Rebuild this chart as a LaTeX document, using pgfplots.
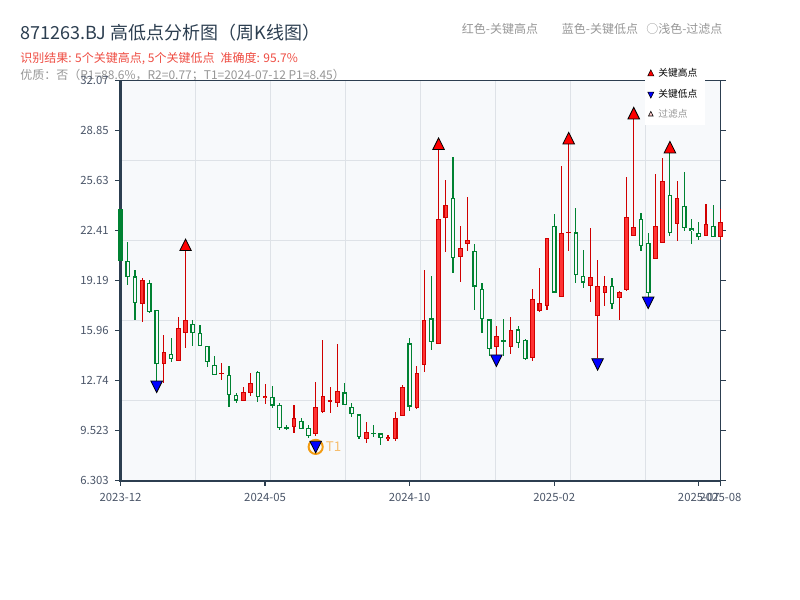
\documentclass[border=0pt]{standalone}
\usepackage{pgfplots}
\pgfplotsset{compat=1.18}
\usepackage{pgfplotstable}
\usepackage{fontspec}
\setmainfont{Noto Sans CJK SC}
\definecolor{titlecol}{RGB}{44,62,80}
\definecolor{spine}{RGB}{44,62,80}
\definecolor{bgcol}{RGB}{247,249,251}
\definecolor{gridcol}{RGB}{222,226,231}
\definecolor{upred}{RGB}{255,51,51}
\definecolor{wickred}{RGB}{208,0,0}
\definecolor{dngreen}{RGB}{0,130,50}
\definecolor{subred}{RGB}{238,75,65}
\definecolor{subgray}{RGB}{150,150,150}
\definecolor{ticklab}{RGB}{74,85,104}
\definecolor{t1orange}{RGB}{243,156,18}
\definecolor{t1text}{RGB}{246,190,110}

% red (filled) candles: index, low, high, body bottom, body top
\pgfplotstableread{
x lo hi bb bt
3 16.51 19.36 17.69 19.23
6 12.60 15.71 13.82 14.60
8 14.02 16.87 14.02 16.14
9 14.83 21.10 15.82 16.66
14 12.81 13.91 13.16 13.27
17 11.44 12.36 11.44 12.04
18 11.74 13.24 11.93 12.60
20 11.23 12.56 11.61 11.76
24 9.40 11.15 9.76 10.37
27 9.20 12.66 9.29 11.07
28 10.69 15.37 10.75 11.76
29 10.64 12.32 11.37 11.50
30 11.07 15.11 11.29 12.08
34 8.75 10.06 8.97 9.46
37 8.86 9.25 8.97 9.12
38 8.88 10.71 8.97 10.32
39 10.47 12.47 10.47 12.32
41 10.94 13.67 10.96 13.22
42 13.33 19.88 13.73 16.63
44 15.09 27.61 15.09 23.14
45 21.06 25.67 23.20 24.04
47 19.12 22.71 20.69 21.27
48 21.12 24.56 21.53 21.79
52 14.43 16.27 14.94 15.60
54 14.46 16.83 14.94 15.99
57 14.04 18.63 14.23 17.99
58 17.17 19.98 17.25 17.73
59 17.30 21.96 17.58 21.96
61 18.16 26.58 18.16 22.24
62 21.12 27.97 22.28 22.34
65 17.84 22.60 18.87 19.40
66 14.19 20.52 16.93 18.85
67 17.58 19.49 18.42 18.85
69 16.66 18.55 18.05 18.48
70 18.55 25.85 18.59 23.27
71 22.07 29.58 22.07 22.67
74 20.56 26.06 20.56 22.73
75 21.59 27.07 21.59 25.61
77 21.77 25.61 22.84 24.49
81 22.09 24.13 22.09 22.82
83 21.81 23.80 21.98 22.99
}\redtab

% green (hollow) candles
\pgfplotstableread{
x lo hi bb bt
1 18.91 21.70 19.40 20.48
2 16.66 19.88 17.75 19.47
4 17.09 19.23 17.15 19.04
5 12.75 17.30 13.82 17.30
7 13.93 15.50 14.15 14.47
10 15.00 16.66 15.82 16.40
11 14.96 16.36 14.96 15.82
12 13.61 14.98 13.93 14.98
13 13.11 14.36 13.11 13.78
15 11.08 13.70 11.83 13.11
16 11.29 11.98 11.46 11.81
19 11.40 13.35 11.68 13.31
21 11.01 12.41 11.14 11.68
22 9.57 11.31 9.70 11.18
23 9.57 9.89 9.64 9.79
25 9.64 10.35 9.64 10.15
26 9.03 9.89 9.16 9.71
31 11.16 12.57 11.16 11.99
32 10.38 11.29 10.58 11.07
33 8.97 10.58 9.10 10.58
35 9.10 9.87 9.31 9.40
36 8.62 9.35 9.03 9.35
40 10.81 15.47 11.07 15.15
43 14.72 19.49 15.21 16.76
46 19.66 27.13 20.63 24.53
49 17.30 21.55 18.80 21.12
50 15.84 19.02 16.70 18.67
51 14.33 16.70 14.76 16.70
53 14.33 16.72 15.22 15.37
55 14.83 16.27 15.15 16.05
56 14.08 15.41 14.12 15.36
60 18.42 23.48 18.42 22.73
63 19.06 23.89 19.55 22.30
64 18.74 21.16 19.06 19.51
68 17.36 19.34 17.66 18.85
72 21.12 23.53 21.42 23.16
73 18.16 22.24 18.37 21.64
76 22.07 27.39 22.24 24.73
78 22.41 26.19 22.56 24.02
79 21.55 23.16 22.39 22.56
80 21.81 22.97 21.98 22.28
82 21.98 24.06 21.98 22.73
}\greentab

\pgfplotsset{
  candle/.style={forget plot, draw=none, mark=none, error bars/.cd, y dir=both, y explicit, error mark=none,
    error bar style={draw=#1, solid}},
}

\begin{document}
\begin{tikzpicture}[x=0.75pt,y=0.75pt]
\path (0,0) rectangle (800,600);
\coordinate (AX) at (120.5,119.3);
\node[anchor=west, inner sep=0, text=titlecol, font=\fontsize{13.5pt}{16pt}\selectfont] at (20,567) {871263.BJ 高低点分析图（周K线图）};
\node[anchor=west, inner sep=0, text=subred, font=\fontsize{9pt}{11pt}\selectfont] at (20,541) {识别结果: 5个关键高点, 5个关键低点\hspace{0.5em}准确度: 95.7\%};
\node[anchor=west, inner sep=0, text=subgray, font=\fontsize{9pt}{11pt}\selectfont] at (20,525) {优质：否（R1=88.6\%，R2=0.77；T1=2024-07-12 P1=8.45）};
\node[anchor=west, inner sep=0, text=subgray, font=\fontsize{9pt}{11pt}\selectfont] at (461.7,571) {红色-关键高点};
\node[anchor=west, inner sep=0, text=subgray, font=\fontsize{9pt}{11pt}\selectfont] at (561.7,571) {蓝色-关键低点};
\node[anchor=west, inner sep=0, text=subgray, font=\fontsize{9pt}{11pt}\selectfont] at (646,571) {○浅色-过滤点};

\begin{axis}[
  at={(AX)}, anchor=south west,
  scale only axis, width=450pt, height=300pt,
  xmin=0, xmax=83, ymin=6.303, ymax=32.07,
  clip=false,
  axis background/.style={fill=bgcol},
  axis line style={draw=spine, line width=0.9pt},
  tick align=outside, major tick length=3.8pt,
  major tick style={draw=spine, line width=0.9pt},
  xtick pos=left,
  xtick={0,20,40,60,80,83},
  xticklabels={2023-12,2024-05,2024-10,2025-02,2025-07,2025-08},
  ytick={6.303,9.5239,12.7448,15.9657,19.1866,22.4075,25.6284,28.8493,32.07},
  yticklabels={6.303,9.523,12.74,15.96,19.19,22.41,25.63,28.85,32.07},
  extra x ticks={10.375,20.75,31.125,41.5,51.875,62.25,72.625},
  extra x tick labels={},
  extra y ticks={11.4564,16.6098,21.7632,26.9166},
  extra y tick labels={},
  extra tick style={grid=major, major tick length=0pt},
  major grid style={draw=gridcol, line width=0.75pt},
  tick label style={font=\fontsize{8.5pt}{10pt}\selectfont, text=ticklab},
  yticklabel style={xshift=-1.5pt},
  xticklabel style={yshift=-2pt},
  /pgf/number format/assume math mode=true,
  legend cell align=left,
  legend style={at={(0.874,1.044)}, anchor=north west, draw=none, fill=white,
    font=\fontsize{7.3pt}{9pt}\selectfont, row sep=3.6pt, inner xsep=2pt, inner ysep=2pt,
    nodes={inner xsep=3.5pt}},
]
\draw[spine, line width=1.6pt] (rel axis cs:0,1) -- (rel axis cs:0,0) -- (rel axis cs:1,0);

% wicks
\addplot[candle=wickred, error bar style={line width=0.85pt}]
  table[x=x, y expr={(\thisrow{hi}+\thisrow{lo})/2}, y error expr={(\thisrow{hi}-\thisrow{lo})/2}] {\redtab};
\addplot[candle=dngreen, error bar style={line width=0.85pt}]
  table[x=x, y expr={(\thisrow{hi}+\thisrow{lo})/2}, y error expr={(\thisrow{hi}-\thisrow{lo})/2}] {\greentab};
% bodies
\addplot[candle=wickred, error bar style={line width=3.5pt}]
  table[x=x, y expr={(\thisrow{bt}+\thisrow{bb})/2}, y error expr={max((\thisrow{bt}-\thisrow{bb})/2,0.035)}] {\redtab};
\addplot[candle=upred, error bar style={line width=1.9pt}]
  table[x=x, y expr={(\thisrow{bt}+\thisrow{bb})/2}, y error expr={max((\thisrow{bt}-\thisrow{bb})/2-0.07,0)}] {\redtab};
\addplot[candle=dngreen, error bar style={line width=3.5pt}]
  table[x=x, y expr={(\thisrow{bt}+\thisrow{bb})/2}, y error expr={max((\thisrow{bt}-\thisrow{bb})/2,0.035)}] {\greentab};
\addplot[candle=bgcol, error bar style={line width=1.6pt}]
  table[x=x, y expr={(\thisrow{bt}+\thisrow{bb})/2}, y error expr={max((\thisrow{bt}-\thisrow{bb})/2-0.08,0)}] {\greentab};
% first candle (solid green)
\addplot[candle=dngreen, error bar style={line width=3.5pt}]
  coordinates {(0,22.14) +- (0,1.66)};

% key highs
\addplot[forget plot, only marks, mark=triangle*, mark size=5pt,
  mark options={fill=red, draw=black, line width=0.6pt, solid, yshift=3.2pt, yscale=1.155}]
  coordinates {(9,21.10) (44,27.61) (62,27.97) (71,29.58) (76,27.39)};
% T1 ring
\addplot[forget plot, only marks, mark=o, mark size=5.3pt,
  mark options={draw=t1orange, line width=1.5pt, solid}]
  coordinates {(27,8.48)};
% key lows
\addplot[forget plot, only marks, mark=triangle*, mark size=5pt,
  mark options={fill=blue, draw=black, line width=0.6pt, solid, yshift=-3.2pt, yscale=1.155, rotate=180}]
  coordinates {(5,12.75) (27,8.87) (52,14.43) (66,14.19) (73,18.16)};
\node[anchor=west, inner sep=0, text=t1text, font=\fontsize{10pt}{12pt}\selectfont] at (axis cs:27,8.48) [xshift=7.5pt] {T1};

\addlegendimage{legend image code/.code={\draw[mark=triangle*, mark size=2.6pt, mark options={fill=red, draw=black, line width=0.4pt, solid, yscale=1.155}] plot coordinates {(0.1cm,0cm)};}}
\addlegendentry{关键高点}
\addlegendimage{legend image code/.code={\draw[mark=triangle*, mark size=2.6pt, mark options={fill=blue, draw=black, line width=0.4pt, solid, yscale=1.155, rotate=180}] plot coordinates {(0.1cm,0cm)};}}
\addlegendentry{关键低点}
\addlegendimage{legend image code/.code={\draw[mark=triangle*, mark size=2pt, mark options={fill=red!20, draw=black, line width=0.4pt, solid, yscale=1.155}] plot coordinates {(0.1cm,0cm)};}}
\addlegendentry{\textcolor{subgray}{过滤点}}
\end{axis}
\end{tikzpicture}
\end{document}
